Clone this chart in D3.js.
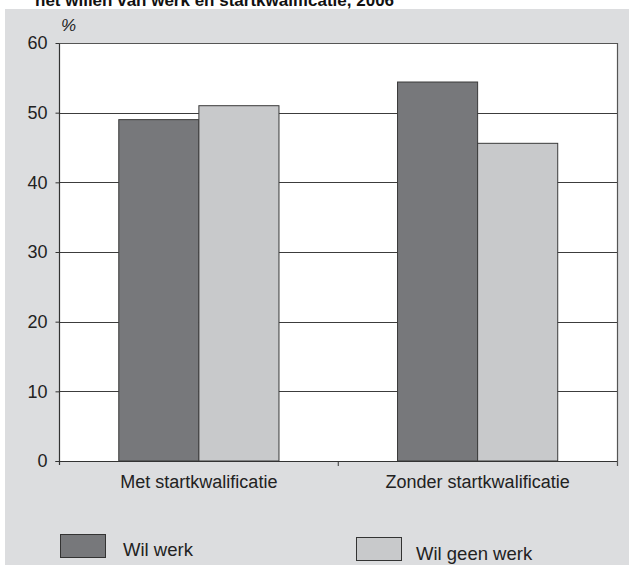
<!DOCTYPE html>
<html><head><meta charset="utf-8">
<script src="https://cdn.jsdelivr.net/npm/d3@7"></script>
<style>body{margin:0;background:#fff}svg{display:block}text{font-family:"Liberation Sans",Arial,sans-serif}</style>
</head><body><div id="chart"></div>
<script>
const categories = ["Met startkwalificatie", "Zonder startkwalificatie"];
const seriesNames = ["Wil werk", "Wil geen werk"];
const wilWerk = [49, 54.4];
const wilGeenWerk = [51, 45.6];
const yTicks = [0, 10, 20, 30, 40, 50, 60];
const title = "het willen van werk en startkwalificatie, 2006";
const colors = ["#77787b", "#c8c9cb"];

const W = 629, H = 565;
const m = {left: 59.5, right: 12, top: 43, bottom: 104};
const svg = d3.select("#chart").append("svg").attr("width", W).attr("height", H);
svg.append("rect").attr("x", 5).attr("y", 9).attr("width", W - 5).attr("height", H - 9).attr("fill", "#dcdddf");
svg.append("text").attr("x", 35).attr("y", 6).attr("font-weight", "bold").attr("font-size", 17).attr("fill", "#111").text(title);

const x0 = d3.scaleBand().domain(categories).range([m.left, W - m.right]).paddingInner(0).paddingOuter(0);
const x1 = d3.scaleBand().domain(seriesNames).range([0, x0.bandwidth()]).paddingInner(0).paddingOuter(0.74);
const y = d3.scaleLinear().domain([0, 60]).range([H - m.bottom, m.top]);

svg.append("rect").attr("x", m.left).attr("y", m.top).attr("width", W - m.right - m.left).attr("height", H - m.bottom - m.top).attr("fill", "#fff");

// gridlines
svg.append("g").selectAll("line").data(yTicks.filter(d => d > 0)).join("line")
  .attr("x1", m.left).attr("x2", W - m.right).attr("y1", d => Math.round(y(d)) + 0.5).attr("y2", d => Math.round(y(d)) + 0.5)
  .attr("stroke", "#3c3c3c").attr("stroke-width", 1.1);
// right border
svg.append("line").attr("x1", W - m.right + 0.5).attr("x2", W - m.right + 0.5).attr("y1", m.top).attr("y2", H - m.bottom + 5)
  .attr("stroke", "#555").attr("stroke-width", 1.2);

const data = categories.map((c, i) => ({cat: c, vals: [wilWerk[i], wilGeenWerk[i]]}));
const g = svg.append("g").selectAll("g").data(data).join("g").attr("transform", d => `translate(${x0(d.cat)},0)`);
g.selectAll("rect").data(d => d.vals.map((v, j) => ({s: seriesNames[j], v, j}))).join("rect")
  .attr("x", d => x1(d.s)).attr("width", x1.bandwidth())
  .attr("y", d => y(d.v)).attr("height", d => y(0) - y(d.v))
  .attr("fill", d => colors[d.j]).attr("stroke", "#3a3a3a").attr("stroke-width", 1);

// y axis
const ya = svg.append("g").attr("transform", `translate(${m.left},0)`)
  .call(d3.axisLeft(y).tickValues(yTicks).tickSize(4).tickPadding(8).tickFormat(d3.format("d")));
ya.select(".domain").attr("stroke", "#333").attr("stroke-width", 1.2).attr("d", `M0,${H - m.bottom + 4}V${m.top}`);
ya.selectAll(".tick line").attr("stroke", "#333");
ya.selectAll("text").attr("font-size", 18).attr("fill", "#222").attr("font-family", "Liberation Sans, Arial, sans-serif");

// x axis
const xa = svg.append("g").attr("transform", `translate(0,${H - m.bottom})`);
xa.append("line").attr("x1", m.left - 4).attr("x2", W - m.right).attr("y1", 0.5).attr("y2", 0.5).attr("stroke", "#333").attr("stroke-width", 1.2);
xa.selectAll(".sep").data([categories[1]]).join("line").attr("class", "sep")
  .attr("x1", d => x0(d)).attr("x2", d => x0(d)).attr("y1", 0).attr("y2", 5).attr("stroke", "#333");
xa.selectAll(".lab").data(categories).join("text").attr("class", "lab")
  .attr("x", d => x0(d) + x0.bandwidth() / 2).attr("y", 27).attr("text-anchor", "middle")
  .attr("font-size", 18).attr("fill", "#222").text(d => d);
// top border
svg.append("line").attr("x1", m.left).attr("x2", W - m.right).attr("y1", m.top + 0.5).attr("y2", m.top + 0.5).attr("stroke", "#555").attr("stroke-width", 1.2);

// % label
svg.append("text").attr("x", 61).attr("y", 31).attr("font-size", 17).attr("font-style", "italic").attr("fill", "#222").text("%");

// legend
const legPos = [{x: 60, y: 534, tx: 123, ty: 556}, {x: 356, y: 537, tx: 416, ty: 560}];
const lg = svg.append("g").selectAll("g").data(seriesNames).join("g");
lg.append("rect").attr("x", (d, i) => legPos[i].x + 0.5).attr("y", (d, i) => legPos[i].y + 0.5).attr("width", 45).attr("height", 23)
  .attr("fill", (d, i) => colors[i]).attr("stroke", "#333").attr("stroke-width", 1);
lg.append("text").attr("x", (d, i) => legPos[i].tx).attr("y", (d, i) => legPos[i].ty).attr("font-size", 18.5).attr("fill", "#222").text(d => d);
</script></body></html>
